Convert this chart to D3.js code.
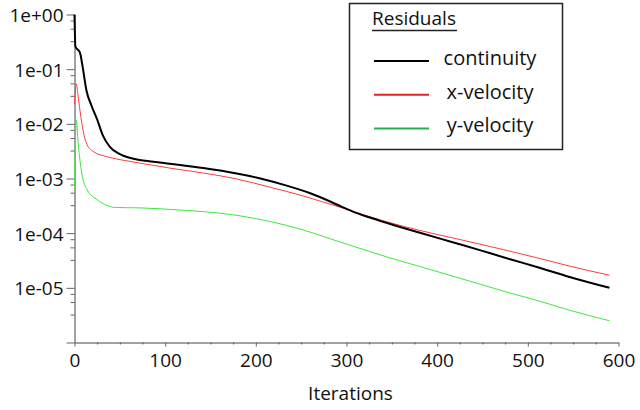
<!DOCTYPE html>
<html>
<head>
<meta charset="utf-8">
<script src="https://cdn.jsdelivr.net/npm/d3@7"></script>
<style>
  body { margin: 0; background: #fff; }
  svg { display: block; font-family: "Open Sans", sans-serif; }
</style>
</head>
<body>
<svg id="chart" width="640" height="410"></svg>
<script>

// residual histories (iteration, residual)
var contIter = [0, 1, 6, 9, 13, 19, 25, 31, 39, 50, 65, 87, 105, 142, 179, 205, 234, 260, 282, 295, 307, 325, 344, 381, 418, 447, 473, 510, 546, 590];
var contVal = [1.0, 0.26, 0.20, 0.11, 0.042, 0.021, 0.012, 0.0063, 0.0038, 0.0028, 0.0023, 0.00203, 0.00186, 0.00155, 0.00123, 0.00100,
    0.00074, 0.000537, 0.00038, 0.000302, 0.000248, 0.000195, 0.000155, 0.000102, 0.0000676, 0.000049, 0.0000363, 0.000024, 0.0000158, 0.0000100];

var xvelIter = [0, 2, 4, 7, 10, 14, 21, 36, 58, 87, 105, 142, 179, 216, 252, 270, 282, 307, 344, 381, 418, 447, 473, 510, 546, 590];
var xvelVal = [0.023, 0.054, 0.032, 0.0135, 0.0068, 0.0041, 0.0031, 0.0025, 0.0021, 0.00174, 0.00155, 0.00126, 0.00098, 0.00069,
    0.00048, 0.00039, 0.00034, 0.000251, 0.000162, 0.000112, 0.0000813, 0.000063, 0.00005, 0.0000355, 0.000025, 0.000017];

var yvelIter = [0, 2, 4, 8, 14, 25, 36, 45, 72, 94, 105, 142, 179, 216, 252, 282, 307, 344, 381, 418, 447, 473, 510, 546, 590];
var yvelVal = [0.00068, 0.0117, 0.0045, 0.00126, 0.00062, 0.00041, 0.00032, 0.000295, 0.00029, 0.00028, 0.000272, 0.000248, 0.000212,
    0.000163, 0.000115, 0.000079, 0.000058, 0.000037, 0.0000245, 0.0000162, 0.0000117, 0.0000087, 0.0000059, 0.0000039, 0.0000025];

var seriesNames = ['continuity', 'x-velocity', 'y-velocity'];
var xTicks = [0, 100, 200, 300, 400, 500, 600];
var yDecades = [1e-6, 1e-5, 1e-4, 1e-3, 1e-2, 1e-1, 1];
var yLabels = ['', '1e-05', '1e-04', '1e-03', '1e-02', '1e-01', '1e+00'];

var lineColor = ['#000000', '#ff3b3b', '#3ee83e'];
var legendColor = ['#000000', '#ec1c24', '#22b14c'];
var lineWidth = [2, 1, 1];

var svg = d3.select('#chart');

var x = d3.scaleLinear().domain([0, 600]).range([74.5, 618.5]);
var y = d3.scaleLog().domain([1e-6, 1]).range([342.5, 14.5]);

// minor ticks: each decade split in 4 equal linear steps
var yMinor = [];
yDecades.slice(0, -1).forEach(function(d) {
    [3.25, 5.5, 7.75].forEach(function(m) { yMinor.push(d * m); });
});
var xMinor = d3.range(0, 601, 25).filter(function(d) { return d % 100 !== 0; });

// minor ticks first so majors sit on top
svg.append('g')
    .attr('transform', 'translate(74.5,0)')
    .call(d3.axisLeft(y).tickValues(yMinor).tickSize(4).tickSizeOuter(0).tickFormat(''))
    .call(function(g) { g.select('.domain').remove(); });

svg.append('g')
    .attr('transform', 'translate(0,342.5)')
    .call(d3.axisBottom(x).tickValues(xMinor).tickSize(2).tickSizeOuter(0).tickFormat(''))
    .call(function(g) { g.select('.domain').remove(); });

var yAxis = svg.append('g')
    .attr('transform', 'translate(74.5,0)')
    .call(d3.axisLeft(y).tickValues(yDecades).tickSize(8).tickSizeOuter(0)
        .tickFormat(function(d, i) { return yLabels[i]; }));

var xAxis = svg.append('g')
    .attr('transform', 'translate(0,342.5)')
    .call(d3.axisBottom(x).tickValues(xTicks).tickSize(4).tickSizeOuter(0).tickFormat(d3.format('d')));

svg.selectAll('.tick line').attr('stroke', '#666');
svg.selectAll('.domain').attr('stroke', '#444');

yAxis.selectAll('text')
    .attr('x', -11)
    .attr('dy', '0.36em')
    .style('font-family', '"Open Sans", sans-serif')
    .style('font-size', '19px')
    .attr('fill', '#111');

xAxis.selectAll('text')
    .attr('y', 11)
    .attr('dy', '0.71em')
    .style('font-family', '"Open Sans", sans-serif')
    .style('font-size', '19px')
    .attr('fill', '#111');

svg.append('text')
    .attr('x', x(300) + 4)
    .attr('y', 400)
    .attr('text-anchor', 'middle')
    .style('font-size', '19px')
    .attr('fill', '#111')
    .text('Iterations');

var series = [
    { iter: yvelIter, val: yvelVal, idx: 2 },
    { iter: xvelIter, val: xvelVal, idx: 1 },
    { iter: contIter, val: contVal, idx: 0 }
];

var line = d3.line()
    .x(function(d) { return x(d[0]); })
    .y(function(d) { return y(d[1]); })
    .curve(d3.curveMonotoneX);

series.forEach(function(s) {
    var pts = s.iter.map(function(it, i) { return [it, s.val[i]]; });
    svg.append('path')
        .datum(pts)
        .attr('d', line)
        .attr('fill', 'none')
        .attr('stroke', lineColor[s.idx])
        .attr('stroke-width', lineWidth[s.idx])
        .attr('stroke-linejoin', 'round');
});

// legend box
var legend = svg.append('g').attr('class', 'legend');

legend.append('rect')
    .attr('x', 349.5)
    .attr('y', 3.5)
    .attr('width', 213)
    .attr('height', 146)
    .attr('fill', '#fff')
    .attr('stroke', '#222')
    .attr('stroke-width', 1.5);

legend.append('text')
    .attr('x', 372)
    .attr('y', 25)
    .style('font-size', '19px')
    .attr('fill', '#111')
    .text('Residuals');

legend.append('line')
    .attr('x1', 372).attr('x2', 457)
    .attr('y1', 30.5).attr('y2', 30.5)
    .attr('stroke', '#222')
    .attr('stroke-width', 1.5);

var rows = legend.selectAll('g.row')
        .data(seriesNames)
    .enter().append('g')
        .attr('class', 'row')
        .attr('transform', function(d, i) {
            return 'translate(0,' + (61 + i * 33.7) + ')';
        });

rows.append('line')
    .attr('x1', 374).attr('x2', 429)
    .attr('y1', 0).attr('y2', 0)
    .attr('stroke', function(d, i) { return legendColor[i]; })
    .attr('stroke-width', 2);

rows.append('text')
    .attr('x', 490)
    .attr('y', 0)
    .attr('dy', '0.2em')
    .attr('text-anchor', 'middle')
    .style('font-size', '20px')
    .attr('fill', '#111')
    .text(function(d) { return d; });

</script>
</body>
</html>
